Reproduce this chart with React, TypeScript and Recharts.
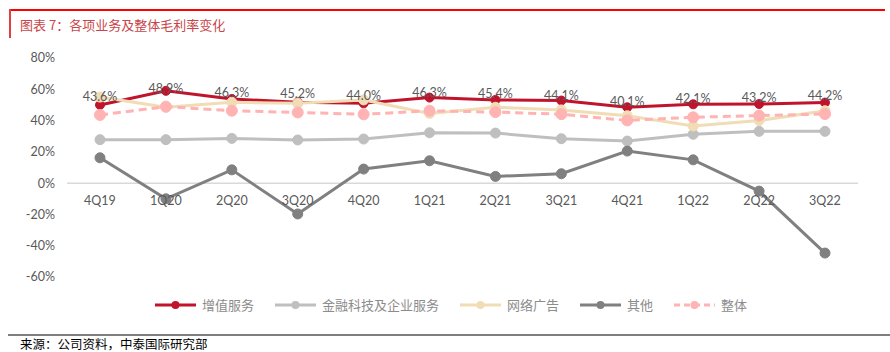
import React from 'react';
import { LineChart, Line, XAxis, YAxis, ReferenceLine, LabelList } from 'recharts';

const categories = ['4Q19', '1Q20', '2Q20', '3Q20', '4Q20', '1Q21', '2Q21', '3Q21', '4Q21', '1Q22', '2Q22', '3Q22'];
const valueAdded = [50.0, 59.0, 53.8, 51.7, 51.0, 54.7, 53.2, 52.8, 48.5, 50.4, 50.6, 51.5];
const fintech = [27.8, 27.8, 28.6, 27.6, 28.2, 32.2, 32.0, 28.4, 26.9, 31.2, 33.1, 33.1];
const onlineAds = [55.0, 48.5, 51.7, 51.0, 53.2, 44.6, 48.5, 46.8, 43.1, 36.5, 40.0, 46.3];
const others = [16.2, -10.0, 8.5, -19.7, 9.0, 14.3, 4.3, 6.0, 20.5, 14.9, -5.1, -44.7];
const overall = [43.6, 48.9, 46.3, 45.2, 44.0, 46.3, 45.4, 44.1, 40.1, 42.1, 43.2, 44.2];
const yTicks = [-60, -40, -20, 0, 20, 40, 60, 80];

const seriesNames = ['增值服务', '金融科技及企业服务', '网络广告', '其他', '整体'];
const seriesColors = ['#C0142C', '#BFBFBF', '#F0DDB5', '#808080', '#FFB3B3'];

const data = categories.map((c, i) => ({
  cat: c,
  valueAdded: valueAdded[i],
  fintech: fintech[i],
  onlineAds: onlineAds[i],
  others: others[i],
  overall: overall[i],
}));

const CHART_W = 890;
const CHART_H = 352;
const M_TOP = 58;
const M_BOTTOM = 55;
const X_AXIS_H = 20;
const PLOT_H = CHART_H - M_TOP - M_BOTTOM - X_AXIS_H;
const Y_MIN = -60;
const Y_MAX = 80;
const ZERO_FROM_BOTTOM = (PLOT_H * (0 - Y_MIN)) / (Y_MAX - Y_MIN);

const AXIS_FONT = 'Lato, "Open Sans", sans-serif';

const XTick = (props: any) => {
  const { x, y, payload } = props;
  return (
    <text x={x} y={y - ZERO_FROM_BOTTOM + 17} textAnchor="middle" dominantBaseline="central" fill="#595959" fontSize={12.5} fontFamily={AXIS_FONT}>
      {payload.value}
    </text>
  );
};

const OverallLabel = (props: any) => {
  const { x, y, value } = props;
  return (
    <text x={x} y={y - 18.5} textAnchor="middle" dominantBaseline="central" fill="#595959" fontSize={12.5} fontFamily={AXIS_FONT}>
      {`${Number(value).toFixed(1)}%`}
    </text>
  );
};

const LegendItem = ({ name, color, dashed }: { name: string; color: string; dashed?: boolean }) => (
  <div style={{ display: 'flex', alignItems: 'center', marginRight: 21 }}>
    <svg width={41} height={12} style={{ display: 'block' }}>
      <line x1={0} y1={6} x2={41} y2={6} stroke={color} strokeWidth={3} strokeDasharray={dashed ? '6 4' : undefined} />
      <circle cx={20.5} cy={6} r={4} fill={color} />
    </svg>
    <span style={{ marginLeft: 6, fontSize: 13, color: '#8C8C8C', fontFamily: '"Noto Sans CJK SC", sans-serif', lineHeight: '16px', whiteSpace: 'nowrap' }}>
      {name}
    </span>
  </div>
);

export default function App() {
  return (
    <div style={{ position: 'absolute', left: 0, top: 0, width: CHART_W, height: CHART_H, background: '#fff', overflow: 'hidden' }}>
      {/* title frame */}
      <div style={{ position: 'absolute', left: 9, top: 9, width: 876, height: 2, background: '#FF0000' }} />
      <div style={{ position: 'absolute', left: 9, top: 9, width: 1.5, height: 29, background: '#E04040' }} />
      <div style={{ position: 'absolute', left: 20, top: 15, fontSize: 13, lineHeight: '20px', color: '#C8454A', fontFamily: '"Noto Sans CJK SC", sans-serif', whiteSpace: 'nowrap' }}>
        图表 7：各项业务及整体毛利率变化
      </div>

      <div style={{ position: 'absolute', left: 0, top: 0 }}>
        <LineChart width={CHART_W} height={CHART_H} data={data} margin={{ top: M_TOP, right: 32, bottom: M_BOTTOM, left: 0 }}>
          <XAxis dataKey="cat" axisLine={false} tickLine={false} tickSize={0} tickMargin={0} height={X_AXIS_H} padding={{ left: 33, right: 33 }} tick={<XTick />} interval={0} />
          <YAxis width={67} domain={[Y_MIN, Y_MAX]} ticks={yTicks} axisLine={false} tickLine={false} tickMargin={6} tickFormatter={(v: number) => `${v}%`} tick={{ fill: '#595959', fontSize: 12.5, fontFamily: AXIS_FONT }} interval={0} />
          <ReferenceLine y={0} stroke="#D9D9D9" strokeWidth={1.5} />
          <Line dataKey="valueAdded" name={seriesNames[0]} stroke={seriesColors[0]} strokeWidth={3} dot={{ r: 4.5, fill: seriesColors[0], stroke: seriesColors[0], strokeWidth: 1 }} isAnimationActive={false} />
          <Line dataKey="fintech" name={seriesNames[1]} stroke={seriesColors[1]} strokeWidth={3} dot={{ r: 5, fill: seriesColors[1], stroke: seriesColors[1], strokeWidth: 1 }} isAnimationActive={false} />
          <Line dataKey="onlineAds" name={seriesNames[2]} stroke={seriesColors[2]} strokeWidth={3} dot={{ r: 5, fill: seriesColors[2], stroke: seriesColors[2], strokeWidth: 1 }} isAnimationActive={false} />
          <Line dataKey="others" name={seriesNames[3]} stroke={seriesColors[3]} strokeWidth={3} dot={{ r: 5, fill: seriesColors[3], stroke: seriesColors[3], strokeWidth: 1 }} isAnimationActive={false} />
          <Line dataKey="overall" name={seriesNames[4]} stroke={seriesColors[4]} strokeWidth={3} strokeDasharray="8 5" dot={{ r: 5.5, fill: seriesColors[4], stroke: seriesColors[4], strokeWidth: 1, strokeDasharray: '' }} isAnimationActive={false}>
            <LabelList dataKey="overall" content={<OverallLabel />} />
          </Line>
        </LineChart>
      </div>

      {/* legend */}
      <div style={{ position: 'absolute', left: 155, top: 297, height: 16, display: 'flex', alignItems: 'center' }}>
        {seriesNames.map((n, i) => (
          <LegendItem key={n} name={n} color={seriesColors[i]} dashed={i === 4} />
        ))}
      </div>

      {/* source */}
      <div style={{ position: 'absolute', left: 8, top: 334, width: 882, height: 1.5, background: '#7F7F7F' }} />
      <div style={{ position: 'absolute', left: 20, top: 337, fontSize: 12.5, lineHeight: '14px', color: '#000', fontFamily: '"Noto Sans CJK SC", sans-serif', whiteSpace: 'nowrap' }}>
        来源：公司资料，中泰国际研究部
      </div>
    </div>
  );
}
